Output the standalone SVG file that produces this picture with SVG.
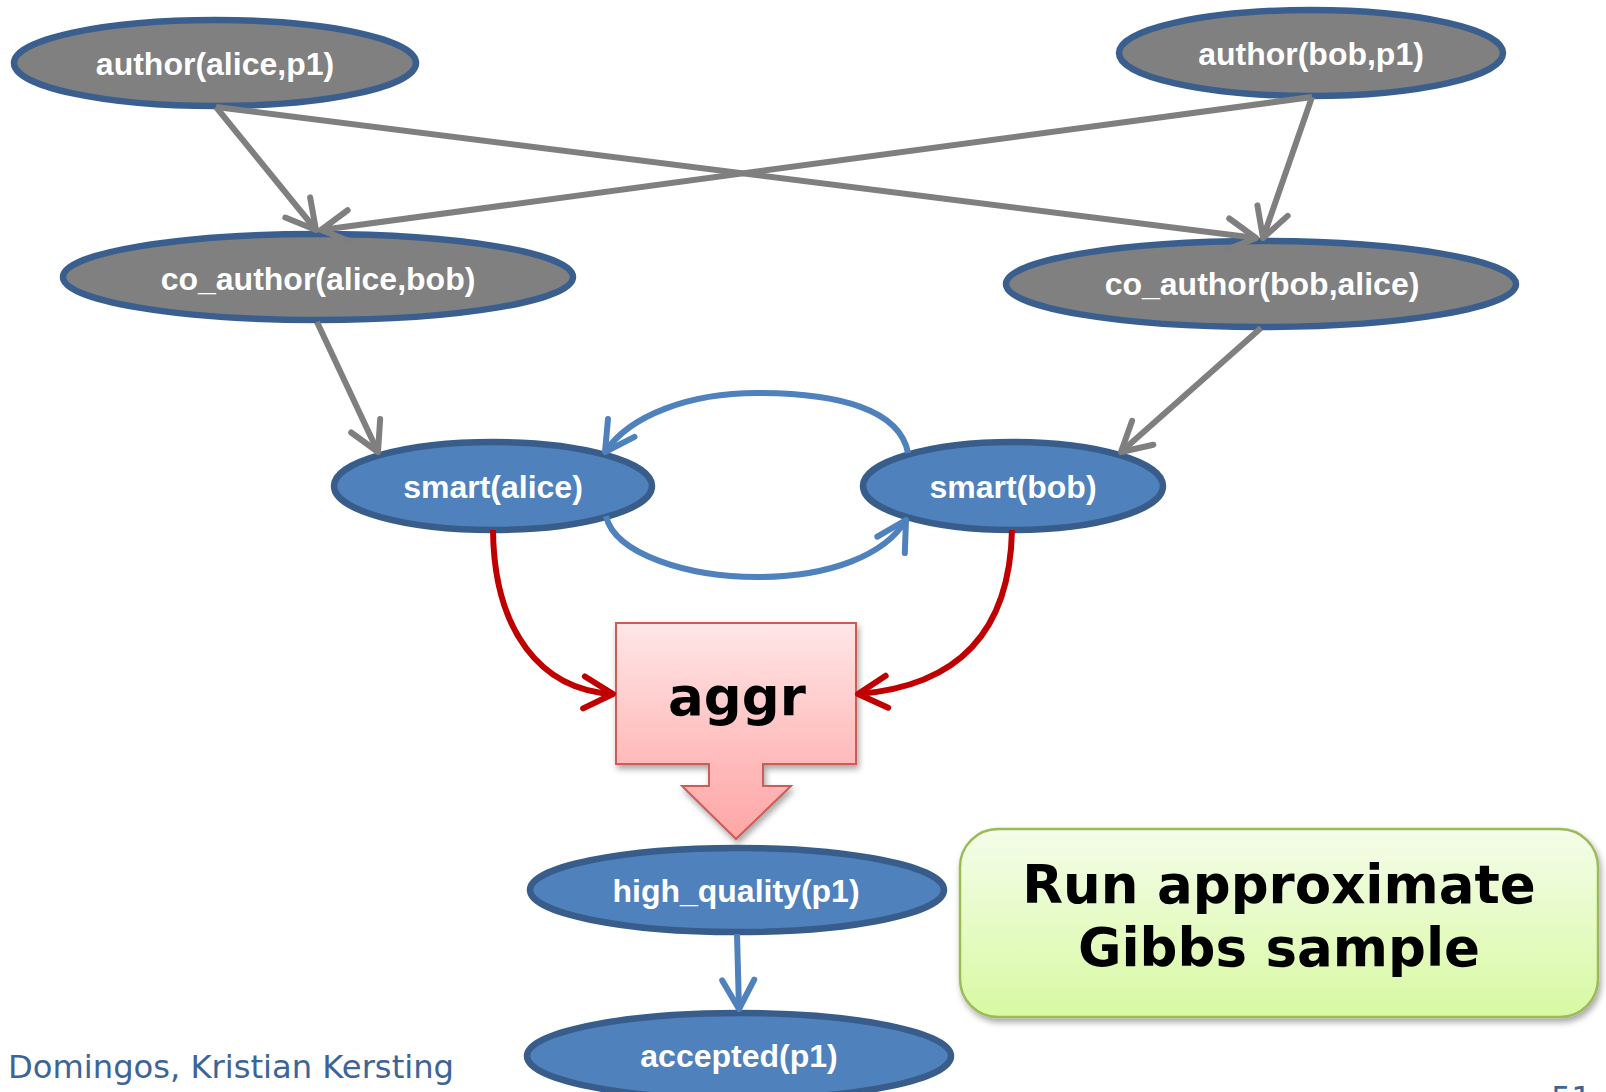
<svg xmlns="http://www.w3.org/2000/svg" width="1606" height="1092" viewBox="0 0 1606 1092">
  <style>
    .node-gray { fill: #808080; stroke: #3a5f8e; stroke-width: 6.5; }
    .node-blue { fill: #4f81bd; stroke: #385d8a; stroke-width: 6.5; }
    .label { font-family: "Liberation Sans", Arial, sans-serif; font-weight: bold; font-size: 32px; fill: #ffffff; text-anchor: middle; }
    .big { font-family: "DejaVu Sans", Verdana, sans-serif; font-weight: bold; font-size: 53px; fill: #000000; text-anchor: middle; }
    .foot { font-family: "DejaVu Sans", Verdana, sans-serif; font-size: 32px; fill: #3c6496; }
    .edge-gray { fill: none; stroke: #7f7f7f; stroke-width: 6; marker-end: url(#ah-gray); }
    .edge-blue { fill: none; stroke: #4f81bd; stroke-width: 6; marker-end: url(#ah-blue); }
    .edge-red { fill: none; stroke: #c00000; stroke-width: 6; marker-end: url(#ah-red); }
  </style>
  <defs>
    <marker id="ah-gray" markerUnits="userSpaceOnUse" viewBox="-36 -22 40 44" markerWidth="40" markerHeight="44" refX="0" refY="0" orient="auto" overflow="visible">
      <path d="M-29,-16 L0,0 L-29,16" fill="none" stroke="#7f7f7f" stroke-width="6" stroke-linecap="round" stroke-linejoin="round"/>
    </marker>
    <marker id="ah-blue" markerUnits="userSpaceOnUse" viewBox="-36 -22 40 44" markerWidth="40" markerHeight="44" refX="0" refY="0" orient="auto" overflow="visible">
      <path d="M-29,-16 L0,0 L-29,16" fill="none" stroke="#4f81bd" stroke-width="6" stroke-linecap="round" stroke-linejoin="round"/>
    </marker>
    <marker id="ah-red" markerUnits="userSpaceOnUse" viewBox="-36 -22 40 44" markerWidth="40" markerHeight="44" refX="0" refY="0" orient="auto" overflow="visible">
      <path d="M-29,-16 L0,0 L-29,16" fill="none" stroke="#c00000" stroke-width="6" stroke-linecap="round" stroke-linejoin="round"/>
    </marker>
    <linearGradient id="pinkFill" x1="0" y1="0" x2="0" y2="1">
      <stop offset="0" stop-color="#ffe6e6"/>
      <stop offset="0.6" stop-color="#ffbdbd"/>
      <stop offset="1" stop-color="#ffa6a6"/>
    </linearGradient>
    <linearGradient id="greenFill" x1="0" y1="0" x2="0" y2="1">
      <stop offset="0" stop-color="#f4fde9"/>
      <stop offset="1" stop-color="#d8f9a2"/>
    </linearGradient>
    <filter id="softShadow" x="-10%" y="-10%" width="125%" height="130%">
      <feDropShadow dx="2" dy="4" stdDeviation="3" flood-color="#000000" flood-opacity="0.35"/>
    </filter>
  </defs>

  <rect width="1606" height="1092" fill="#ffffff"/>

  <!-- evidence atoms -->
  <g id="author-alice-p1">
    <ellipse class="node-gray" cx="215" cy="63" rx="201" ry="43"/>
    <text class="label" x="215" y="75">author(alice,p1)</text>
  </g>
  <g id="author-bob-p1">
    <ellipse class="node-gray" cx="1311" cy="53" rx="192" ry="43"/>
    <text class="label" x="1311" y="65">author(bob,p1)</text>
  </g>
  <g id="co-author-alice-bob">
    <ellipse class="node-gray" cx="318" cy="277" rx="255" ry="43"/>
    <text class="label" x="318" y="290">co_author(alice,bob)</text>
  </g>
  <g id="co-author-bob-alice">
    <ellipse class="node-gray" cx="1261" cy="284" rx="255" ry="43"/>
    <text class="label" x="1262" y="295">co_author(bob,alice)</text>
  </g>

  <!-- query atoms -->
  <g id="smart-alice">
    <ellipse class="node-blue" cx="493" cy="486" rx="159" ry="44"/>
    <text class="label" x="493" y="498">smart(alice)</text>
  </g>
  <g id="smart-bob">
    <ellipse class="node-blue" cx="1013" cy="486" rx="150" ry="44"/>
    <text class="label" x="1013" y="498">smart(bob)</text>
  </g>

  <!-- aggregation block with downward arrow -->
  <g id="aggr">
    <path d="M616,623 H856 V764 H763 V786 H791 L736,839 L682,786 H709 V764 H616 Z" fill="url(#pinkFill)" stroke="#cd5b58" stroke-width="2" filter="url(#softShadow)"/>
    <text class="big" x="737" y="715">aggr</text>
  </g>

  <g id="high-quality-p1">
    <ellipse class="node-blue" cx="737" cy="890" rx="207" ry="42"/>
    <text class="label" x="736" y="902">high_quality(p1)</text>
  </g>
  <g id="accepted-p1">
    <ellipse class="node-blue" cx="739" cy="1056" rx="212" ry="43"/>
    <text class="label" x="739" y="1067">accepted(p1)</text>
  </g>

  <!-- callout -->
  <g id="gibbs-note">
    <rect x="960" y="829" width="638" height="188" rx="38" ry="38" fill="url(#greenFill)" stroke="#9bbb59" stroke-width="2.5" filter="url(#softShadow)"/>
    <text class="big" x="1279" y="903">Run approximate</text>
    <text class="big" x="1279" y="966">Gibbs sample</text>
  </g>

  <!-- connectors -->
  <g id="connectors">
    <path class="edge-gray" d="M216,107 L316,230"/>
    <path class="edge-gray" d="M216,107 L1256,238"/>
    <path class="edge-gray" d="M1312,97 L321,230"/>
    <path class="edge-gray" d="M1312,97 L1263,238"/>
    <path class="edge-gray" d="M317,322 L378,452"/>
    <path class="edge-gray" d="M1261,328 L1121,452"/>
    <path class="edge-blue" d="M908,453 C900,410 840,393 757,393 C690,393 630,415 605,452"/>
    <path class="edge-blue" d="M606,516 C615,555 690,577 757,577 C830,577 885,555 906,520"/>
    <path class="edge-red" d="M493,530 C494,630 540,690 613,694"/>
    <path class="edge-red" d="M1012,530 C1010,630 960,686 858,694"/>
    <path class="edge-blue" d="M737,934 L739,1009"/>
  </g>

  <!-- footer -->
  <text class="foot" x="8" y="1078" textLength="446" lengthAdjust="spacingAndGlyphs">Domingos, Kristian Kersting</text>
  <text class="foot" x="1551" y="1109">51</text>
</svg>
